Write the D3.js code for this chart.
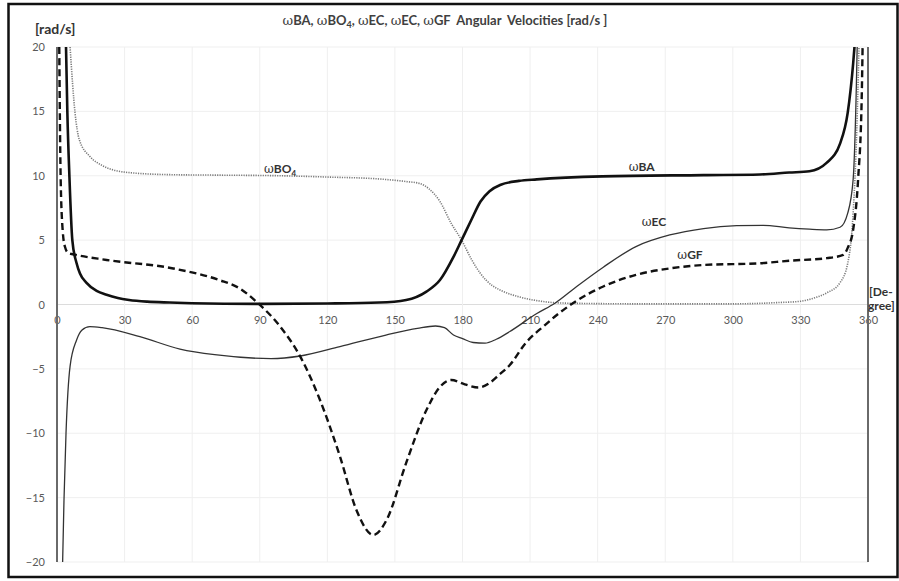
<!DOCTYPE html>
<html>
<head>
<meta charset="utf-8">
<script src="https://cdn.jsdelivr.net/npm/d3@7"></script>
<style>
  body { margin: 0; background: #fff; }
  text { font-family: Lato, "Open Sans", sans-serif; }
</style>
</head>
<body>
<div id="chart"></div>
<script>
// angular velocities, degrees vs rad/s
let baDeg = [4, 4.6, 5.5, 6.8, 8.7, 10.2, 13, 17.6, 22, 27, 32, 40, 50, 60, 90, 120, 143, 155, 164, 170, 176, 179.6, 184, 188, 192, 197, 205, 213, 242, 287, 312, 325, 334, 341.6, 347.6, 351, 353.4, 354];
let baVal = [20, 14.9, 10, 5, 3.2, 2.4, 1.7, 1.05, 0.75, 0.5, 0.35, 0.22, 0.15, 0.1, 0.05, 0.08, 0.15, 0.35, 1.0, 1.9, 3.7, 5.0, 6.6, 8.0, 8.8, 9.3, 9.6, 9.72, 9.95, 10.05, 10.1, 10.25, 10.35, 11.0, 12.5, 14.9, 18.7, 20];

let boDeg = [5.8, 8, 9.9, 14.6, 20, 25, 35, 51.6, 70, 99, 120, 143, 155, 161, 165, 170, 175, 179.6, 184, 188, 193, 197, 205, 213, 227, 260, 300, 320, 330, 336, 341.7, 347.6, 351, 353.4, 355, 356];
let boVal = [20, 14.9, 12.8, 11.5, 10.8, 10.45, 10.2, 10.08, 10.05, 10.0, 9.9, 9.75, 9.55, 9.4, 9.0, 8.0, 6.3, 5.0, 3.5, 2.4, 1.5, 1.1, 0.6, 0.3, 0.1, 0.05, 0.05, 0.15, 0.25, 0.5, 0.9, 1.7, 3.2, 7.1, 13.5, 20];

let ecDeg = [2.5, 3.1, 4, 5.8, 8.7, 11, 14.6, 20, 36.8, 54.6, 70, 95, 108, 125.6, 146, 160, 168, 172, 176, 180, 184.7, 190, 195, 201, 213, 221, 230.7, 242.5, 257, 272, 287, 301.7, 313.5, 325, 334, 341.7, 347.6, 351, 353.4, 354.7, 355.2];
let ecVal = [-20, -15.2, -10, -4.8, -2.76, -2.0, -1.72, -1.8, -2.5, -3.46, -3.9, -4.2, -4.0, -3.27, -2.37, -1.85, -1.67, -1.8, -2.37, -2.65, -2.95, -3.0, -2.7, -2.1, -0.7, 0.1, 1.4, 2.9, 4.5, 5.4, 5.9, 6.12, 6.15, 5.95, 5.85, 5.8, 6.0, 7.1, 9.7, 16, 20];

let gfDeg = [1, 1.6, 2.5, 3.5, 5, 7.2, 22, 51.6, 72, 81, 88.6, 99, 108, 116.7, 125.6, 133, 140.4, 146.4, 155, 164, 170, 175, 181, 187, 192, 196, 201, 208, 216.6, 222, 229, 242.5, 257, 272, 287, 312, 325, 341.7, 349, 351, 353.4, 355.6, 357.2, 357.6];
let gfVal = [20, 10, 5.8, 4.5, 4.0, 3.9, 3.46, 2.8, 1.9, 1.26, 0.2, -1.7, -4.05, -7.4, -11.8, -16, -17.9, -16.7, -12.3, -8.2, -6.4, -5.86, -6.2, -6.45, -6.1, -5.5, -4.7, -3.0, -1.6, -0.8, 0.1, 1.4, 2.3, 2.8, 3.07, 3.2, 3.4, 3.6, 3.85, 4.4, 5.8, 9.7, 16, 20];

let xTicks = [0, 30, 60, 90, 120, 150, 180, 210, 240, 270, 300, 330, 360];
let yTicks = [-20, -15, -10, -5, 0, 5, 10, 15, 20];
let edgeLines = [0, 360];

let svgWidth = 899;
let svgHeight = 581;

let svg = d3.select("#chart")
  .append("svg")
  .attr("width", svgWidth)
  .attr("height", svgHeight);

let x = d3.scaleLinear().domain([0, 360]).range([57, 868]);
let y = d3.scaleLinear().domain([-20, 20]).range([562, 47]);

// outer frame
svg.append("rect")
  .attr("x", 8.5).attr("y", 4)
  .attr("width", 889).attr("height", 573)
  .attr("fill", "none")
  .attr("stroke", "#111")
  .attr("stroke-width", 2.5);

// gridlines
svg.append("g")
  .selectAll("line")
  .data(yTicks)
  .enter()
  .append("line")
  .attr("x1", x(0)).attr("x2", x(360))
  .attr("y1", d => y(d)).attr("y2", d => y(d))
  .attr("stroke", d => d === 0 ? "#dcdcdc" : "#efefef")
  .attr("stroke-width", 1);

svg.append("g")
  .selectAll("line")
  .data(xTicks)
  .enter()
  .append("line")
  .attr("x1", d => x(d)).attr("x2", d => x(d))
  .attr("y1", y(20)).attr("y2", y(-20))
  .attr("stroke", "#efefef")
  .attr("stroke-width", 1);

// tick labels
let yAxis = d3.axisLeft(y).tickValues(yTicks).tickSize(0).tickPadding(0);
let yg = svg.append("g")
  .attr("transform", "translate(45,0)")
  .call(yAxis);
yg.select(".domain").remove();
yg.selectAll("text")
  .attr("fill", "#595959")
  .style("font-size", "11px");

let xAxis = d3.axisBottom(x).tickValues(xTicks).tickSize(0).tickPadding(0);
let xg = svg.append("g")
  .attr("transform", `translate(0, ${y(0) + 12})`)
  .call(xAxis);
xg.select(".domain").remove();
xg.selectAll("text")
  .attr("fill", "#595959")
  .style("font-size", "11px");

// the two vertical lines at 0 and 360
svg.append("g")
  .selectAll("line")
  .data(edgeLines)
  .enter()
  .append("line")
  .attr("x1", d => x(d)).attr("x2", d => x(d))
  .attr("y1", y(20)).attr("y2", y(-20))
  .attr("stroke", "#6a6a6a")
  .attr("stroke-width", 2);

svg.append("clipPath")
  .attr("id", "plot")
  .append("rect")
  .attr("x", x(0)).attr("y", y(20))
  .attr("width", x(360) - x(0)).attr("height", y(-20) - y(20));

let line = d3.line()
  .x(d => x(d[0]))
  .y(d => y(d[1]))
  .curve(d3.curveMonotoneX);

let series = [
  { deg: boDeg, val: boVal, color: "#7a7a7a", width: 1.6, dash: "1.2,1.2" },
  { deg: ecDeg, val: ecVal, color: "#333", width: 1.3, dash: null },
  { deg: gfDeg, val: gfVal, color: "#111", width: 2.4, dash: "7,4" },
  { deg: baDeg, val: baVal, color: "#111", width: 2.6, dash: null }
];

let curves = svg.append("g").attr("clip-path", "url(#plot)");
series.forEach(s => {
  curves.append("path")
    .datum(d3.zip(s.deg, s.val))
    .attr("d", line)
    .attr("fill", "none")
    .attr("stroke", s.color)
    .attr("stroke-width", s.width)
    .attr("stroke-dasharray", s.dash);
});

// curve labels
function omegaLabel(deg, val, name, sub) {
  let t = svg.append("text")
    .attr("x", x(deg)).attr("y", y(val))
    .attr("text-anchor", "middle")
    .attr("fill", "#333")
    .style("font-size", "12px")
    .style("font-weight", "bold");
  t.append("tspan").style("font-family", "DejaVu Serif").style("font-weight", "normal").text("ω");
  t.append("tspan").text(name);
  if (sub) {
    t.append("tspan").attr("dy", 3).style("font-size", "8px").text(sub);
  }
}
omegaLabel(99, 10.25, "BO", "4");
omegaLabel(259.5, 10.4, "BA");
omegaLabel(265, 6.1, "EC");
omegaLabel(281, 3.55, "GF");

// title
let title = svg.append("text")
  .attr("x", 445).attr("y", 25)
  .attr("text-anchor", "middle")
  .attr("fill", "#404040")
  .style("font-size", "13px")
  .style("font-weight", "bold");
let parts = [["ω", "BA, "], ["ω", "BO", "4"], [null, ", "], ["ω", "EC, "], ["ω", "EC, "], ["ω", "GF\u00a0\u00a0Angular\u00a0 Velocities [rad/s ]"]];
parts.forEach(p => {
  if (p[0]) title.append("tspan").style("font-family", "DejaVu Serif").style("font-weight", "normal").text(p[0]);
  if (p[2]) {
    title.append("tspan").text(p[1]);
    title.append("tspan").attr("dy", 3).style("font-size", "9px").text(p[2]);
  } else if (p[0] === null) {
    title.append("tspan").attr("dy", -3).text(p[1]);
  } else {
    title.append("tspan").text(p[1]);
  }
});

svg.append("text")
  .attr("x", 35).attr("y", 34)
  .attr("fill", "#333")
  .style("font-size", "14px")
  .style("font-weight", "bold")
  .text("[rad/s]");

svg.append("text")
  .attr("x", 869).attr("y", 296)
  .attr("fill", "#333")
  .style("font-size", "12px")
  .style("font-weight", "bold")
  .text("[De-");
svg.append("text")
  .attr("x", 868).attr("y", 310)
  .attr("fill", "#333")
  .style("font-size", "12px")
  .style("font-weight", "bold")
  .text("gree]");
</script>
</body>
</html>
